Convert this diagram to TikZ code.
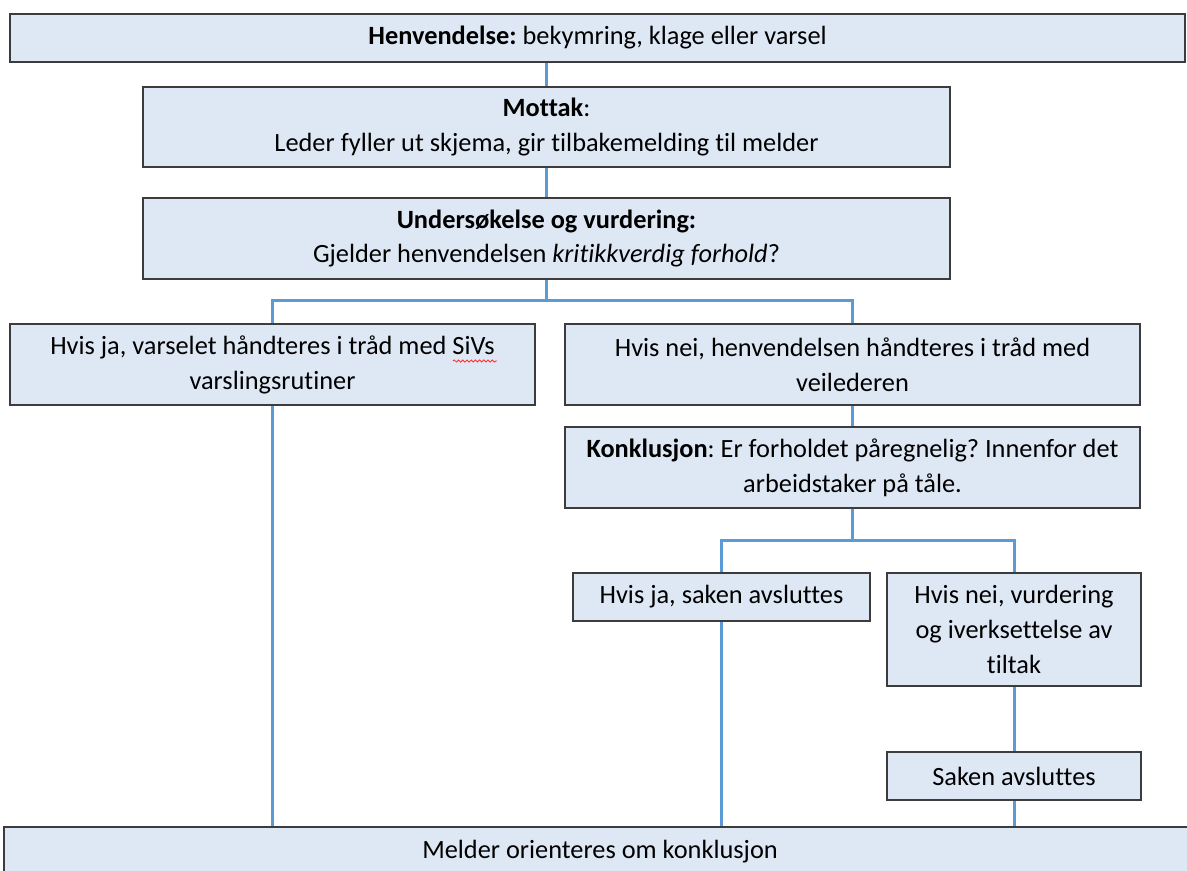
\documentclass[tikz,border=0pt]{standalone}
\usepackage{fontspec}
\setmainfont{Carlito}[Ligatures=NoCommon]
\usepackage{tikz}
\usetikzlibrary{positioning,decorations.pathmorphing}
\definecolor{boxfill}{HTML}{DEE8F4}
\definecolor{boxline}{HTML}{3C3C3C}
\definecolor{linkblue}{HTML}{5B9BD5}
\frenchspacing

\begin{document}
\begin{tikzpicture}[x=0.02cm,y=-0.02cm,
		box/.style={draw=boxline,line width=1.1pt,fill=boxfill,inner sep=0pt,align=center,font=\fontsize{15}{19.9}\selectfont},
		link/.style={draw=linkblue,line width=1.7pt}]
		\useasboundingbox (0,0) rectangle (1187,871);
		% boxes
		\node[box,minimum width=1175*0.02cm,minimum height=48*0.02cm] (henv) at (597.5,38) {\textbf{Henvendelse:} bekymring, klage eller varsel};
		\node[box,minimum width=807*0.02cm,minimum height=80*0.02cm] (mottak) at (546.5,127) {\textbf{Mottak}:\\Leder fyller ut skjema, gir tilbakemelding til melder};
		\node[box,minimum width=807*0.02cm,minimum height=81*0.02cm] (undersok) at (546.5,238.5) {\textbf{Undersøkelse og vurdering:}\\Gjelder henvendelsen \textit{kritikkverdig forhold}?};
		\node[box,minimum width=525*0.02cm,minimum height=81*0.02cm] (ja) at (272.5,364.5) {Hvis ja, varselet håndteres i tråd med SiVs\\varslingsrutiner};
		\node[box,minimum width=575*0.02cm,minimum height=81*0.02cm] (nei) at (852.5,364.5) {Hvis nei, henvendelsen håndteres i tråd med\\veilederen};
		\node[box,minimum width=575*0.02cm,minimum height=81*0.02cm] (konkl) at (852.5,467.5) {\textbf{Konklusjon}: Er forholdet påregnelig? Innenfor det\\arbeidstaker på tåle.};
		\node[box,minimum width=297*0.02cm,minimum height=48*0.02cm] (jasak) at (721.5,597) {Hvis ja, saken avsluttes};
		\node[box,minimum width=254*0.02cm,minimum height=113*0.02cm] (neivurd) at (1014,629.5) {Hvis nei, vurdering\\og iverksettelse av\\tiltak};
		\node[box,minimum width=254*0.02cm,minimum height=48*0.02cm] (saken) at (1014,776) {Saken avsluttes};
		\node[box,minimum width=1192*0.02cm,minimum height=50*0.02cm] (melder) at (600,852) {Melder orienteres om konklusjon};
		% spell check mark
		\draw[red!80,line width=0.5pt,decorate,decoration={snake,amplitude=0.6pt,segment length=2.4pt}] (453,361) -- (497,361);
		% connectors
		\draw[link] (henv.south -| mottak.north) -- (mottak.north);
		\draw[link] (mottak) -- (undersok);
		\draw[link] (undersok.south) -- ++(0,21) coordinate (split1);
		\draw[link] (split1) -| (ja.north);
		\draw[link] (split1) -| (nei.north);
		\draw[link] (nei) -- (konkl);
		\draw[link] (konkl.south) -- ++(0,32) coordinate (split2);
		\draw[link] (split2) -| (jasak.north);
		\draw[link] (split2) -| (neivurd.north);
		\draw[link] (neivurd) -- (saken);
		\draw[link] (ja.south) -- (ja.south |- melder.north);
		\draw[link] (jasak.south) -- (jasak.south |- melder.north);
		\draw[link] (saken.south) -- (saken.south |- melder.north);
\end{tikzpicture}
\end{document}
